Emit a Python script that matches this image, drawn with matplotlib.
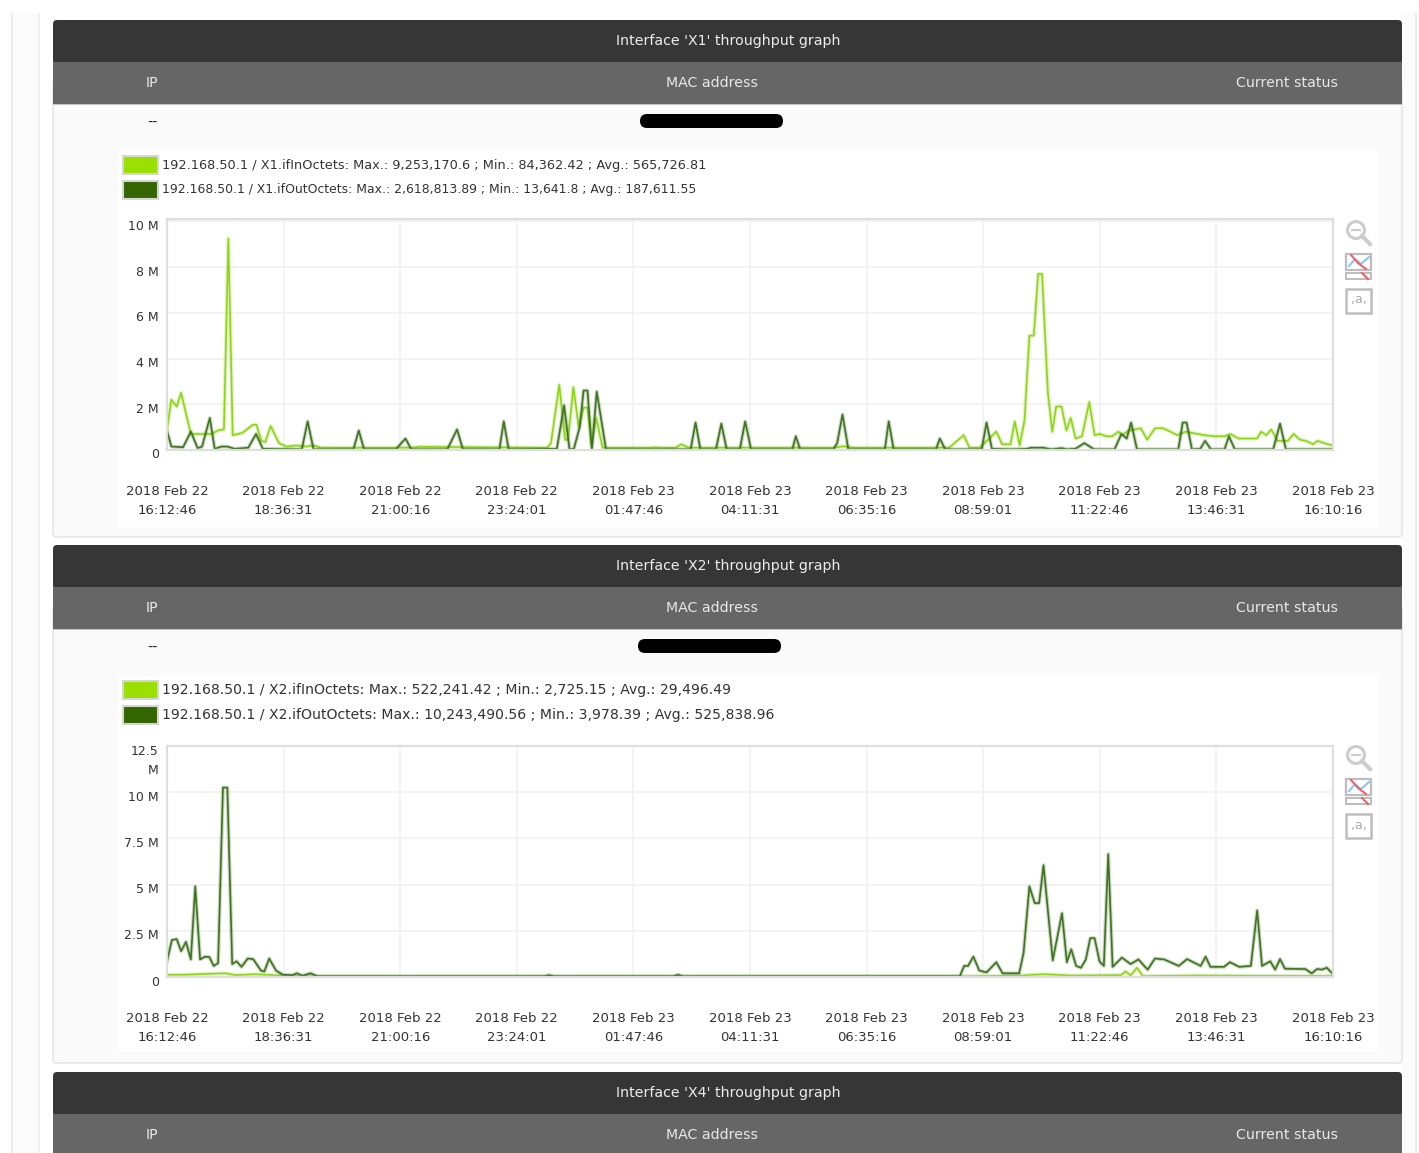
import pandas as pd
import matplotlib
matplotlib.use('Agg')
import matplotlib.pyplot as plt
import matplotlib.patheffects as pe
from matplotlib.patches import Rectangle, FancyBboxPatch, Circle
from matplotlib.transforms import ScaledTranslation

# tick times shared by both graphs
tick_times = ['2018-02-22 16:12:46', '2018-02-22 18:36:31', '2018-02-22 21:00:16', '2018-02-22 23:24:01',
              '2018-02-23 01:47:46', '2018-02-23 04:11:31', '2018-02-23 06:35:16', '2018-02-23 08:59:01',
              '2018-02-23 11:22:46', '2018-02-23 13:46:31', '2018-02-23 16:10:16']
tick_labels = ['2018 Feb 22\n16:12:46', '2018 Feb 22\n18:36:31', '2018 Feb 22\n21:00:16', '2018 Feb 22\n23:24:01',
               '2018 Feb 23\n01:47:46', '2018 Feb 23\n04:11:31', '2018 Feb 23\n06:35:16', '2018 Feb 23\n08:59:01',
               '2018 Feb 23\n11:22:46', '2018 Feb 23\n13:46:31', '2018 Feb 23\n16:10:16']

# X1 in octets, hours since start / millions
x1_in_h = [0, .09, .2, .29, .49, .69, .92, 1.04, 1.17, 1.26, 1.35, 1.55, 1.76, 1.84, 1.94, 2.02, 2.13, 2.3, 2.46,
           2.65, 2.85, 3.01, 3.17, 5.0, 5.2, 7.81, 7.89, 8.06, 8.18, 8.24, 8.35, 8.46, 8.56, 8.64, 8.72, 8.82, 8.95,
           9.94, 10.02, 10.13, 10.45, 10.57, 10.72, 12.85, 13.7, 13.9, 14.1, 16.07, 16.37, 16.49, 16.7, 17.04, 17.16,
           17.33, 17.42, 17.52, 17.62, 17.72, 17.81, 17.9, 17.98, 18.1, 18.19, 18.27, 18.38, 18.48, 18.57, 18.67,
           18.8, 18.95, 19.06, 19.17, 19.3, 19.42, 19.55, 19.63, 19.76, 20.01, 20.14, 20.3, 20.47, 20.76, 20.93,
           21.31, 21.52, 21.73, 21.85, 22.02, 22.4, 22.48, 22.59, 22.69, 22.82, 23.03, 23.15, 23.28, 23.4, 23.55,
           23.64, 23.78, 23.95]
x1_in_v = [.9, 2.2, 1.9, 2.5, .7, .7, .7, .85, .9, 9.25, .65, .75, 1.1, 1.1, .4, .35, 1.05, .3, .15,
           .2, .15, .2, .1, .1, .14, .1, .3, 2.85, .45, .45, 2.75, 1.0, 1.85, 1.85, .2, 1.4, .1,
           .1, .12, .1, .1, .25, .1, .1, .1, .16, .1, .1, .65, .1, .1, .8, .25,
           .25, 1.25, .2, 1.3, 5.0, 5.0, 7.7, 7.7, 2.5, .8, 1.9, 1.9, .85, 1.4, .5,
           .6, 2.1, .65, .7, .6, .6, .8, .65, .85, .95, .45, .95, .95, .65, .8,
           .65, .6, .6, .7, .5, .5, .8, .65, .9, .4, .4, .7, .45, .4, .25,
           .4, .3, .2]
x1_out_h = [0, .09, .33, .49, .63, .72, .88, .98, 1.12, 1.24, 1.39, 1.67, 1.83, 1.97, 2.77, 2.89, 3.01, 3.83, 3.94,
            4.05, 4.7, 4.9, 5.02, 5.76, 5.96, 6.08, 6.83, 6.92, 7.02, 8.01, 8.16, 8.27, 8.36, 8.48, 8.56, 8.64, 8.73,
            8.83, 9.02, 10.76, 10.86, 10.96, 11.28, 11.39, 11.5, 11.77, 11.88, 12.0, 12.85, 12.92, 13.01, 13.69, 13.77,
            13.88, 14.0, 14.75, 14.83, 14.93, 15.8, 15.88, 15.99, 16.74, 16.84, 16.95, 17.33, 17.67, 17.75, 18.0, 18.17,
            18.38, 18.5, 18.67, 18.85, 19.05, 19.47, 19.61, 19.72, 19.81, 19.93, 20.78, 20.87, 20.95, 21.06, 21.23,
            21.33, 21.45, 21.73, 21.82, 21.94, 22.73, 22.87, 22.99, 23.95]
x1_out_v = [.85, .15, .12, .8, .08, .15, 1.4, .05, .15, .15, .05, .1, .7, .05, .03, 1.25, .03, .03, .85,
            .03, .03, .5, .03, .03, .9, .03, .03, 1.25, .03, .05, 1.95, .03, .05, 1.0, 2.6, 2.6, .03,
            2.55, .03, .03, 1.2, .03, .03, 1.15, .03, .03, 1.25, .03, .03, .6, .03, .03, .3,
            1.55, .03, .03, 1.25, .03, .03, .5, .03, .03, 1.2, .05, .03, .05, .1, .1, .03,
            .08, .03, .06, .3, .03, .03, .7, .5, 1.2, .03, .03, 1.2, 1.2, .03, .05,
            .4, .03, .03, .6, .03, .03, 1.15, .03, .03]

# X2 in octets
x2_in_h = [0, .3, 1.2, 1.4, 1.8, 2.5, 3.1, 16.0, 17.5, 17.8, 18.0, 18.6, 19.4, 19.6, 19.7, 19.8, 19.93, 20.05, 21.2, 23.95]
x2_in_v = [.12, .12, .2, .1, .15, .06, .03, .03, .07, .12, .15, .08, .1, .1, .3, .08, .5, .05, .08, .05]

# X2 out octets
x2_out_h = [0, .1, .2, .29, .39, .49, .58, .68, .78, .87, .96, 1.05, 1.15, 1.24, 1.34, 1.43, 1.53, 1.66, 1.77, 1.93,
            2.0, 2.1, 2.24, 2.38, 2.58, 2.67, 2.78, 2.95, 3.09, 7.75, 7.85, 7.95, 10.4, 10.5, 10.6, 16.29, 16.38, 16.46,
            16.57, 16.69, 16.84, 17.04, 17.17, 17.51, 17.6, 17.72, 17.83, 17.92, 18.01, 18.2, 18.39, 18.49, 18.58,
            18.68, 18.78, 18.88, 18.97, 19.06, 19.16, 19.25, 19.34, 19.43, 19.62, 19.8, 19.96, 20.15, 20.3, 20.49,
            20.79, 20.96, 21.24, 21.34, 21.44, 21.72, 21.84, 22.03, 22.27, 22.4, 22.5, 22.67, 22.77, 22.87, 22.97,
            23.39, 23.52, 23.63, 23.73, 23.83, 23.95]
x2_out_v = [.85, 2.0, 2.05, 1.4, 1.9, .95, 4.9, .95, 1.1, 1.08, .6, .75, 10.25, 10.25, .7, .85, .55, 1.0, .97, .35,
            .3, 1.0, .35, .12, .1, .2, .07, .2, .04, .04, .1, .04, .04, .12, .04, .04, .6, .6,
            1.1, .35, .25, .8, .2, .2, 1.3, 4.9, 4.0, 4.0, 6.05, .9, 3.45, .8, 1.5,
            .6, .5, .95, 2.1, 2.1, .85, .6, 6.65, .55, 1.05, .7, .95, .4, 1.0, .95,
            .6, .97, .6, 1.1, .55, .55, .8, .55, .6, 3.6, .6, .85, .4, .97, .45,
            .43, .2, .43, .4, .5, .18]

x1_legend = ['192.168.50.1 / X1.ifInOctets: Max.: 9,253,170.6 ; Min.: 84,362.42 ; Avg.: 565,726.81',
             '192.168.50.1 / X1.ifOutOctets: Max.: 2,618,813.89 ; Min.: 13,641.8 ; Avg.: 187,611.55']
x2_legend = ['192.168.50.1 / X2.ifInOctets: Max.: 522,241.42 ; Min.: 2,725.15 ; Avg.: 29,496.49',
             '192.168.50.1 / X2.ifOutOctets: Max.: 10,243,490.56 ; Min.: 3,978.39 ; Avg.: 525,838.96']
x1_yticks = [0, 2, 4, 6, 8, 10]
x1_ylabels = ['0', '2 M', '4 M', '6 M', '8 M', '10 M']
x2_yticks = [0, 2.5, 5, 7.5, 10, 12.5]
x2_ylabels = ['0', '2.5 M', '5 M', '7.5 M', '10 M', '12.5\nM']

IN_COLOR = '#8fd61a'
OUT_COLOR = '#3f7320'
TEXT = '#333333'

W, H = 1419, 1153
plt.rcParams['font.family'] = 'DejaVu Sans'
fig = plt.figure(figsize=(W / 100, H / 100), dpi=100)

# page chrome is drawn on a full figure axes in pixels
bg = fig.add_axes([0, 0, 1, 1])
bg.set_xlim(0, W)
bg.set_ylim(H, 0)
bg.axis('off')


def box(x0, y0, x1, y1, color, edge='none', lw=0, z=1):
    bg.add_patch(Rectangle((x0, y0), x1 - x0, y1 - y0, fc=color, ec=edge, lw=lw, zorder=z))


box(12, 13, 38, H, '#fbfbfb')
box(11, 13, 12.5, H, '#ececec')
box(38, 13, 39.5, H, '#f0f0f0')
box(1403, 13, 1415, H, '#fbfbfb')
box(1415, 13, 1416.5, H, '#ececec')


def panel(top, title, body_bottom=None, card=None, pill_x=None):
    if body_bottom:
        bg.add_patch(FancyBboxPatch((53, top + 60), 1349, body_bottom - top - 60, boxstyle='round,pad=0,rounding_size=4',
                                    fc='#fafafa', ec='#e6e6e6', lw=1.2, zorder=1))
    bg.add_patch(FancyBboxPatch((53, top), 1349, 44, boxstyle='round,pad=0,rounding_size=4',
                                fc='#363636', ec='none', zorder=2))
    box(53, top + 42, 1402, top + 84, '#666666', z=3)
    box(53, top + 83.5, 1402, top + 85, '#c4c4c4', z=3)
    bg.text(728, top + 21, title, color='#ececec', fontsize=10.2, ha='center', va='center', zorder=4)
    bg.text(152, top + 63, 'IP', color='#e8e8e8', fontsize=10.2, ha='center', va='center', zorder=4)
    bg.text(712, top + 63, 'MAC address', color='#e8e8e8', fontsize=10.2, ha='center', va='center', zorder=4)
    bg.text(1287, top + 63, 'Current status', color='#e8e8e8', fontsize=10.2, ha='center', va='center', zorder=4)
    if body_bottom:
        bg.text(152, top + 103, '--', color='#222222', fontsize=10.2, ha='center', va='center', zorder=4)
        bg.add_patch(FancyBboxPatch((pill_x + 7, top + 94), 143, 14, boxstyle='round,pad=0,rounding_size=7',
                                    fc='black', ec='none', zorder=4))
        box(118, card[0], 1378, card[1], 'white', z=2)


def legend(y, labels, sizes):
    for i, (c, s) in enumerate(zip(['#99e000', '#336600'], labels)):
        yy = y + i * 24.5
        box(123, yy - 9, 158, yy + 9, c, edge='#d6d6d6', lw=1.5, z=4)
        bg.text(162, yy, s, color=TEXT, fontsize=sizes[i], ha='left', va='center', zorder=4)


def icons(y):
    # zoom out, line toggle and label toggle
    bg.add_patch(Circle((1356, y + 10), 8.5, fc='none', ec='#cccccc', lw=2.2, zorder=4))
    bg.plot([1352, 1360], [y + 10, y + 10], color='#cccccc', lw=1.6, zorder=4)
    bg.plot([1362, 1370], [y + 16, y + 24], color='#cccccc', lw=3, zorder=4)
    box(1346, y + 34, 1371, y + 50, 'white', edge='#bdbdbd', lw=1.6, z=4)
    box(1346, y + 53, 1371, y + 59, 'white', edge='#bdbdbd', lw=1.4, z=4)
    bg.plot([1349, 1355, 1361, 1369], [y + 46, y + 39, y + 44, y + 37], color='#8cc8ee', lw=1.5, zorder=5)
    bg.plot([1351, 1358, 1366], [y + 35, y + 43, y + 49], color='#f0606a', lw=1.5, zorder=5)
    bg.plot([1362, 1368], [y + 53, y + 59], color='#f0606a', lw=1.5, zorder=5)
    box(1346, y + 69, 1371, y + 93, 'white', edge='#bdbdbd', lw=1.8, z=4)
    bg.text(1358.5, y + 80, ',a,', color='#aaaaaa', fontsize=9, ha='center', va='center', zorder=5)


panel(20, "Interface 'X1' throughput graph", 537, (150, 527), 633)
panel(545, "Interface 'X2' throughput graph", 1063, (675, 1052), 631)
panel(1072, "Interface 'X4' throughput graph")
legend(165, x1_legend, [9.27, 8.9])
legend(690, x2_legend, [10.1, 10.1])
icons(220)
icons(745)

start = pd.Timestamp(tick_times[0])
tick_hours = [(pd.Timestamp(t) - start).total_seconds() / 3600 for t in tick_times]


def graph(top, bottom, ymax, yticks, ylabels, in_h, in_v, out_h, out_v):
    ax = fig.add_axes([167 / W, 1 - bottom / H, 1166 / W, (bottom - top) / H])
    ax.patch.set_alpha(0)
    # the soft stroke stands in for the blur of the screenshot
    for h, v, c in [(in_h, in_v, IN_COLOR), (out_h, out_v, OUT_COLOR)]:
        ax.plot(h, v, color=c, lw=1.2, solid_joinstyle='round',
                path_effects=[pe.Stroke(linewidth=2.8, foreground=c, alpha=0.28), pe.Normal()])
    ax.set_xlim(tick_hours[0], tick_hours[-1])
    ax.set_ylim(0, ymax)
    ax.set_xticks(tick_hours)
    ax.set_xticklabels(tick_labels, fontsize=9.5, color=TEXT, linespacing=1.65)
    ax.set_yticks(yticks)
    ax.set_yticklabels(ylabels, fontsize=9, color=TEXT, ha='right')
    ax.tick_params(length=0, axis='x', pad=25)
    ax.tick_params(length=0, axis='y', pad=6)
    ax.grid(True, color='#f0f0f0', lw=1.1)
    ax.set_axisbelow(True)
    for s in ax.spines.values():
        s.set_color('#dedede')
        s.set_linewidth(1.6)
    for lab in ax.get_yticklabels():
        # labels sit a few pixels under their grid line, the wrapped one more so
        off = 10.5 if '\n' in lab.get_text() else 3.5
        lab.set_linespacing(1.62)
        lab.set_transform(lab.get_transform() + ScaledTranslation(0, -off / 100, fig.dpi_scale_trans))
    return ax


graph(219, 450, 10.1, x1_yticks, x1_ylabels, x1_in_h, x1_in_v, x1_out_h, x1_out_v)
graph(746, 977, 12.5, x2_yticks, x2_ylabels, x2_in_h, x2_in_v, x2_out_h, x2_out_v)

fig.savefig('out.png', dpi=100)
